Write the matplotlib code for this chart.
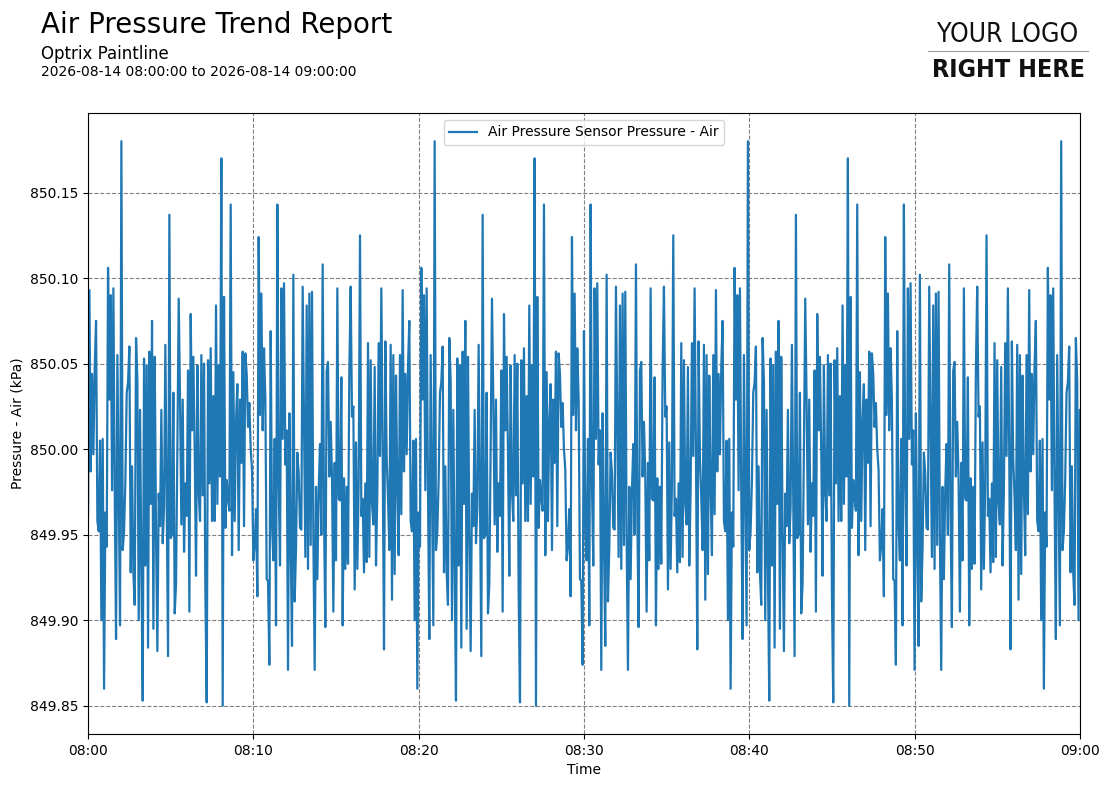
import matplotlib.pyplot as plt
import matplotlib.dates as mdates
import numpy as np
import pandas as pd
from matplotlib.lines import Line2D

plt.rcParams.update({
    'font.size': 10,
    'axes.grid': True,
    'grid.linestyle': '--',
    'grid.color': 'gray',
    'grid.linewidth': 0.8,
})

# readings repeat every ~19 minutes (spikes recur at the same spacing),
# so one cycle is read off the chart and repeated over the hour
cycle_period_s = 1137
lead_samples = 2   # cycle phase at 08:00: its first reading comes two samples in
start = pd.Timestamp('2026-08-14 08:00:00')
end = pd.Timestamp('2026-08-14 09:00:00')

cycle_a = [849.987, 850.044, 849.997, 850.048, 850.075, 849.958, 849.952, 850.005, 849.900, 850.006,
           849.860, 849.963, 849.943, 850.106, 850.029, 850.090, 849.976, 850.094, 849.975, 849.889,
           850.055, 849.976, 849.897, 850.180, 849.941, 849.952, 849.982, 850.033]
cycle_b = [850.039, 850.060, 849.928, 849.990, 849.928, 849.909, 850.065, 850.040, 849.900, 850.023,
           849.930, 849.853, 850.053, 849.932, 850.049, 849.884, 850.057, 849.968, 850.075, 849.895,
           850.054, 849.950, 849.882, 849.974, 849.955, 850.023, 849.945, 849.966, 850.061]
cycle_c = [849.969, 849.879, 850.137, 849.948, 849.950, 850.033, 849.904, 849.921, 850.000, 850.088,
           850.029, 849.956, 850.029, 849.940, 849.980, 849.961, 850.046, 849.905, 850.079, 850.011,
           850.054, 849.999, 849.926, 850.049, 849.975, 849.958, 850.055, 849.973, 850.050, 849.917]
cycle_d = [849.852, 850.052, 849.980, 850.059, 849.958, 850.031, 849.958, 850.084, 849.968, 850.049,
           849.984, 850.170, 849.850, 850.089, 849.954, 849.982, 849.971, 849.964, 850.143, 849.938,
           850.045, 849.958, 850.017, 850.038, 849.941, 850.029, 849.992, 850.057, 849.955, 850.056]
cycle_e = [850.044, 850.013, 850.027, 850.000, 849.988, 849.935, 849.944, 849.965, 849.914, 850.124,
           850.020, 850.091, 850.011, 850.059, 850.029, 849.924, 849.923, 849.874, 850.069, 849.956,
           849.935, 850.006, 849.897, 850.143, 849.980, 849.932, 850.094, 850.006, 850.097, 849.991,
           850.011]
cycle_f = [849.871, 850.021, 849.946, 849.885, 850.102, 849.911, 849.942, 849.998, 849.986, 849.954,
           849.953, 850.095, 850.017, 849.937, 850.084, 849.930, 850.091, 849.944, 850.092, 849.949,
           849.871, 849.978, 849.924, 849.976, 850.003, 849.950, 850.108, 849.962, 849.896, 850.046]
cycle_g = [850.051, 849.984, 850.016, 849.984, 849.905, 849.992, 849.935, 850.094, 849.971, 849.970,
           850.042, 849.897, 849.983, 849.930, 849.978, 849.933, 850.046, 850.095, 850.019, 850.025,
           849.918, 850.004, 849.930, 849.980, 850.125, 849.961, 849.971, 849.928, 849.980, 849.934,
           850.062]
cycle_h = [849.937, 850.052, 849.968, 849.956, 850.048, 849.932, 849.975, 850.062, 849.996, 850.094,
           850.000, 849.883, 850.063, 849.995, 849.972, 849.941, 850.061, 849.912, 850.055, 849.927,
           850.043, 849.978, 849.938, 850.055, 849.962, 850.093]

cycle = cycle_a + cycle_b + cycle_c + cycle_d + cycle_e + cycle_f + cycle_g + cycle_h
dt = cycle_period_s / len(cycle)
n = int(3600 / dt) + 2
pressure = np.resize(np.roll(np.array(cycle), lead_samples), n)
times = start + pd.to_timedelta(np.arange(n) * dt, unit='s')

yticks = [849.85, 849.90, 849.95, 850.00, 850.05, 850.10, 850.15]

fig = plt.figure(figsize=(11.09, 7.88), dpi=100)
ax = fig.add_axes([0.0794, 0.0685, 0.8944, 0.7881])

ax.plot(times, pressure, color='#1f77b4', linewidth=1.6, label='Air Pressure Sensor Pressure - Air')
ax.set_xlim(start, end)
ax.xaxis.set_major_locator(mdates.MinuteLocator(byminute=range(0, 60, 10)))
ax.xaxis.set_major_formatter(mdates.DateFormatter('%H:%M'))
ax.set_yticks(yticks)
ax.yaxis.set_major_formatter(plt.FormatStrFormatter('%.2f'))
ax.set_xlabel('Time')
ax.set_ylabel('Pressure - Air (kPa)')
ax.legend(loc='upper center')

fig.text(0.037, 0.968, 'Air Pressure Trend Report', fontsize=20, va='center', ha='left')
fig.text(0.037, 0.931, 'Optrix Paintline', fontsize=12, va='center', ha='left')
fig.text(0.037, 0.909, '2026-08-14 08:00:00 to 2026-08-14 09:00:00', fontsize=10, va='center', ha='left')

# placeholder logo
fig.text(0.909, 0.956, 'YOUR LOGO', fontsize=19, va='center', ha='center', fontweight='light',
         family='DejaVu Sans', stretch='condensed', color='#111111')
fig.add_artist(Line2D([0.837, 0.981], [0.935, 0.935], color='#999999', linewidth=0.8,
                      transform=fig.transFigure))
fig.text(0.909, 0.911, 'RIGHT HERE', fontsize=18, va='center', ha='center', fontweight='bold',
         family='DejaVu Sans', stretch='condensed', color='#111111')

plt.savefig('out.png', dpi=100)
